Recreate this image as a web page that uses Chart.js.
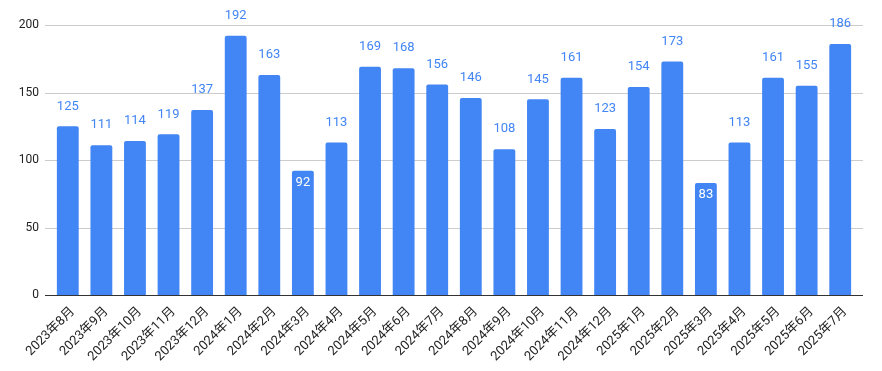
<!DOCTYPE html>
<html>
<head>
<meta charset="utf-8">
<script src="https://cdn.jsdelivr.net/npm/chart.js@4"></script>
<style>
  html, body { margin: 0; padding: 0; background: #fff; }
  #wrap { width: 882px; height: 371px; }
</style>
</head>
<body>
<div id="wrap"><canvas id="myChart"></canvas></div>
<script>
const months = [
  "2023年8月", "2023年9月", "2023年10月", "2023年11月", "2023年12月",
  "2024年1月", "2024年2月", "2024年3月", "2024年4月", "2024年5月",
  "2024年6月", "2024年7月", "2024年8月", "2024年9月", "2024年10月",
  "2024年11月", "2024年12月", "2025年1月", "2025年2月", "2025年3月",
  "2025年4月", "2025年5月", "2025年6月", "2025年7月",
];
const counts = [
  125, 111, 114, 119, 137, 192, 163, 92, 113, 169, 168, 156,
  146, 108, 145, 161, 123, 154, 173, 83, 113, 161, 155, 186,
];
const yTicks = [0, 50, 100, 150, 200];

const BLUE = "#4285f4";
const FONT = "Roboto, 'Noto Sans CJK SC', sans-serif";

// gridlines run a bit wider than the bars area
const gridPlugin = {
  id: "grid",
  beforeDatasetsDraw(chart) {
    const ctx = chart.ctx;
    const y = chart.scales.y;
    ctx.save();
    yTicks.forEach((t) => {
      const py = Math.round(y.getPixelForValue(t)) + 0.5;
      ctx.strokeStyle = t === 0 ? "#333" : "#ccc";
      ctx.lineWidth = 1;
      ctx.beginPath();
      ctx.moveTo(45, py);
      ctx.lineTo(863, py);
      ctx.stroke();
    });
    ctx.restore();
  },
};

const labelPlugin = {
  id: "valueLabels",
  afterDatasetsDraw(chart) {
    const ctx = chart.ctx;
    const meta = chart.getDatasetMeta(0);
    ctx.save();
    ctx.font = "13px " + FONT;
    ctx.textAlign = "center";
    ctx.textBaseline = "middle";
    meta.data.forEach((bar, i) => {
      const v = counts[i];
      if (v < 100) {
        ctx.fillStyle = "#fff";
        ctx.fillText(String(v), bar.x, bar.y + 12);
      } else {
        ctx.fillStyle = BLUE;
        ctx.fillText(String(v), bar.x, bar.y - 20);
      }
    });
    ctx.restore();
  },
};

document.addEventListener("DOMContentLoaded", () => {
  const ctx = document.getElementById("myChart").getContext("2d");
  new Chart(ctx, {
    type: "bar",
    data: {
      labels: months,
      datasets: [
        {
          data: counts,
          backgroundColor: BLUE,
          borderRadius: { topLeft: 2, topRight: 2 },
          borderSkipped: "bottom",
          barPercentage: 0.65,
          categoryPercentage: 1,
        },
      ],
    },
    options: {
      responsive: true,
      maintainAspectRatio: false,
      animation: false,
      layout: { padding: { top: 25, right: 25, left: 0, bottom: 0 } },
      plugins: {
        legend: { display: false },
        tooltip: { enabled: false },
      },
      scales: {
        x: {
          grid: { display: false, drawTicks: false },
          border: { display: false },
          ticks: {
            color: "#222",
            font: { family: FONT, size: 13 },
            minRotation: 45,
            maxRotation: 45,
            padding: 9,
            labelOffset: 5,
            autoSkip: false,
          },
          afterFit(scale) {
            scale.height = 76;
          },
        },
        y: {
          min: 0,
          max: 200,
          grid: { display: false, drawTicks: false },
          border: { display: false },
          ticks: {
            stepSize: 50,
            color: "#222",
            font: { family: FONT, size: 12 },
            padding: 12,
          },
          afterFit(scale) {
            scale.width = 51;
          },
        },
      },
    },
    plugins: [gridPlugin, labelPlugin],
  });
});
</script>
</body>
</html>
